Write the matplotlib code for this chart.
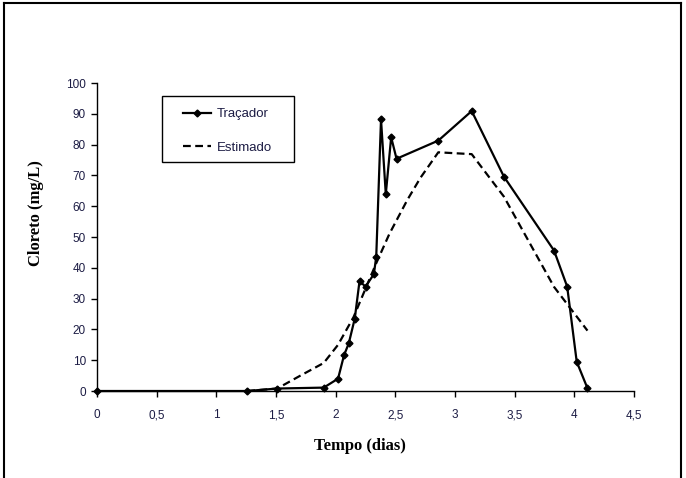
import matplotlib
matplotlib.use("Agg")
import matplotlib.pyplot as plt
from matplotlib.lines import Line2D
from matplotlib.patches import Rectangle

# Data
tempo_tracador = [0, 1.26, 1.51, 1.90, 2.02, 2.07, 2.11, 2.16, 2.20, 2.25, 2.32, 2.34,
                  2.38, 2.42, 2.465, 2.51, 2.86, 3.14, 3.41, 3.83, 3.94, 4.02, 4.11]
cloreto_tracador = [0, 0, 0.8, 1.1, 4.0, 11.6, 15.5, 23.5, 35.7, 33.9, 37.9, 43.6,
                    88.2, 63.9, 82.4, 75.4, 81.3, 90.9, 69.6, 45.6, 33.9, 9.5, 0.9]

tempo_estimado = [1.26, 1.51, 1.70, 1.90, 2.02, 2.15, 2.34, 2.45, 2.60, 2.71, 2.86, 3.14, 3.41, 3.83, 4.11]
cloreto_estimado = [0, 0.8, 4.9, 9.1, 15.0, 24.0, 41.5, 51.0, 62.0, 69.2, 77.5, 76.9, 63.1, 33.8, 19.6]

xticks = [0, 0.5, 1, 1.5, 2, 2.5, 3, 3.5, 4, 4.5]
xticklabels = ["0", "0,5", "1", "1,5", "2", "2,5", "3", "3,5", "4", "4,5"]
yticks = list(range(0, 101, 10))

W, H = 686, 478
fig = plt.figure(figsize=(W / 100, H / 100), dpi=100)
fig.patch.set_facecolor("white")

ax = fig.add_axes([97 / W, 1 - 391 / H, (634 - 97) / W, (391 - 83) / H])
ax.plot(tempo_tracador, cloreto_tracador, color="black", lw=1.6, marker="D",
        markersize=3.5, label="Traçador", clip_on=False, zorder=3)
ax.plot(tempo_estimado, cloreto_estimado, color="black", lw=1.6, ls=(0, (3.5, 2)),
        label="Estimado", clip_on=False, zorder=2)

ax.set_xlim(0, 4.5)
ax.set_ylim(0, 100)
ax.set_xticks(xticks)
ax.set_xticklabels(xticklabels)
ax.set_yticks(yticks)
for s in ["top", "right"]:
    ax.spines[s].set_visible(False)
for s in ["left", "bottom"]:
    ax.spines[s].set_linewidth(1.0)
    ax.spines[s].set_color("black")
tick_color = "#1c1c44"
ax.tick_params(axis="both", direction="out", length=4, width=1.0, color="black",
               labelcolor=tick_color, labelsize=8.5)
ax.tick_params(axis="x", pad=9)
ax.tick_params(axis="y", pad=4)
for lab in ax.get_xticklabels() + ax.get_yticklabels():
    lab.set_family(["Liberation Sans", "DejaVu Sans"])

fig.text(360 / W, 1 - 446 / H, "Tempo (dias)", ha="center", va="center",
         family="Liberation Serif", fontweight="bold", fontsize=12)
fig.text(36 / W, 1 - 213 / H, "Cloreto (mg/L)", ha="center", va="center",
         rotation=90, family="Liberation Serif", fontweight="bold", fontsize=12)

# legend frame
ax.add_patch(Rectangle((162 / W, 1 - 162 / H), (294 - 162) / W, (162 - 96) / H,
                       transform=fig.transFigure, facecolor="white",
                       edgecolor="black", lw=1.0, zorder=4, clip_on=False))
leg = ax.legend(loc="upper left", bbox_to_anchor=(183 / W, 1 - 108 / H),
                bbox_transform=fig.transFigure,
                frameon=False, handlelength=2.1, labelspacing=1.6, borderpad=0,
                handletextpad=0.45, borderaxespad=0,
                prop={"family": "Liberation Sans", "size": 9.5})
leg.set_zorder(6)
for t in leg.get_texts():
    t.set_color(tick_color)

# outer border (cut at bottom)
lw = 1.5
fig.add_artist(Line2D([4 / W, 4 / W], [0, 1 - 3 / H], color="black", lw=lw))
fig.add_artist(Line2D([681 / W, 681 / W], [0, 1 - 3 / H], color="black", lw=lw))
fig.add_artist(Line2D([4 / W, 681 / W], [1 - 3 / H, 1 - 3 / H], color="black", lw=lw))

fig.savefig("out.png", dpi=100, facecolor="white")
